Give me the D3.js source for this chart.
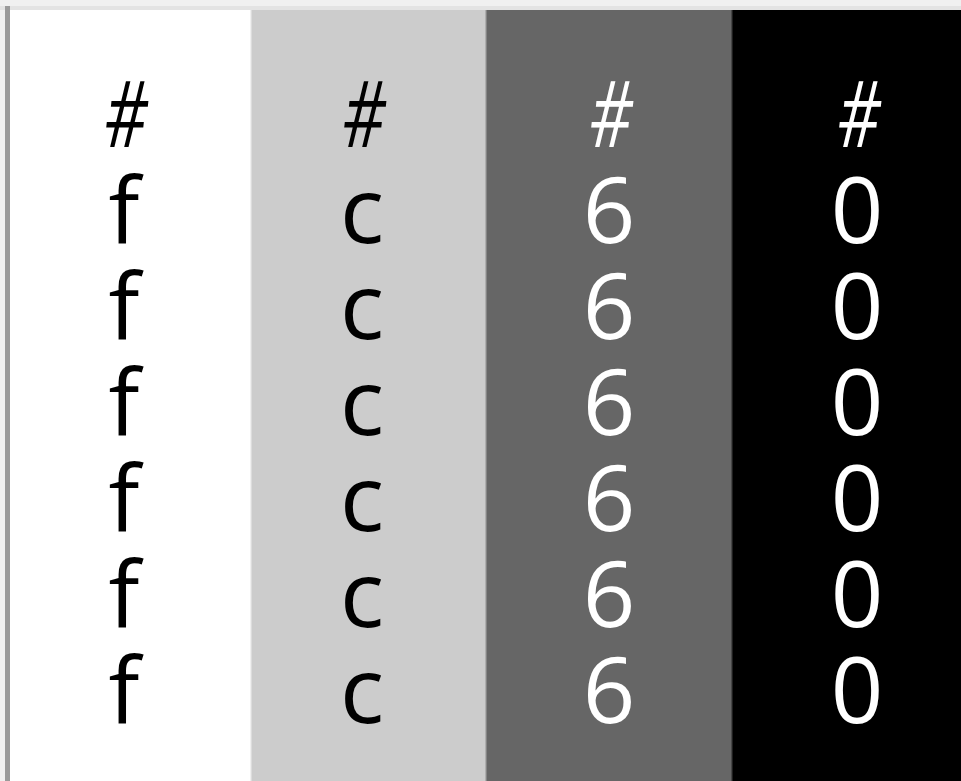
<!DOCTYPE html>
<html>
<head>
<meta charset="utf-8">
<script src="https://cdn.jsdelivr.net/npm/d3@7"></script>
<style>
  html, body { margin: 0; padding: 0; background: #f0f0f0; overflow: hidden; }
  svg { display: block; }
</style>
</head>
<body>
<script>
// ---- data ----
const swatchColors = ["#ffffff", "#cccccc", "#666666", "#000000"];
const swatchLabels = ["#ffffff", "#cccccc", "#666666", "#000000"];
const textColors   = ["#000000", "#000000", "#ffffff", "#ffffff"];

// ---- layout ----
const W = 961, H = 781;
const colEdges = [10, 251, 486, 732, 978];   // column boundaries (layout)
const textCenters = [124, 362, 609, 857];
const bandTop = 10;
const fontSize = 92;
const firstBaseline = 147, lineStep = 96;

const svg = d3.select("body").append("svg")
  .attr("width", W).attr("height", H);

// frame background
svg.append("rect").attr("x", 0).attr("y", 0).attr("width", W).attr("height", H).attr("fill", "#f0f0f0");
svg.append("rect").attr("x", 0).attr("y", 6).attr("width", W).attr("height", 4).attr("fill", "#e3e3e3");
svg.append("rect").attr("x", 5).attr("y", 6).attr("width", 5).attr("height", H).attr("fill", "#9a9a9a");

const idx = d3.range(swatchColors.length);
const x0 = d3.scaleOrdinal().domain(idx).range(colEdges.slice(0, -1));
const x1 = d3.scaleOrdinal().domain(idx).range(colEdges.slice(1));
const xt = d3.scaleOrdinal().domain(idx).range(textCenters);

const y = d3.scaleLinear().domain([0, 1]).range([firstBaseline, firstBaseline + lineStep]);

const cols = svg.selectAll("g.col").data(idx).join("g").attr("class", "col");

cols.append("rect")
  .attr("x", i => x0(i))
  .attr("y", bandTop)
  .attr("width", i => x1(i) - x0(i))
  .attr("height", H - bandTop)
  .attr("fill", i => swatchColors[i]);

// separators (soft edges between swatches)
svg.selectAll("rect.sep").data(idx.slice(1)).join("rect")
  .attr("class", "sep")
  .attr("x", i => x0(i) - 1)
  .attr("y", bandTop)
  .attr("width", 2)
  .attr("height", H - bandTop)
  .attr("fill", i => d3.interpolateRgb(swatchColors[i - 1], swatchColors[i])(0.5))
  .attr("opacity", 0.6);

cols.selectAll("text")
  .data(i => swatchLabels[i].split("").map((ch, k) => ({ ch, k, i })))
  .join("text")
  .attr("transform", d => `translate(${xt(d.i)},${y(d.k)})` + (d.ch === "#" ? " skewX(-6) scale(0.72,1)" : ""))
  .attr("text-anchor", "middle")
  .attr("font-family", "'Open Sans', 'Noto Sans', sans-serif")
  .attr("font-size", fontSize)
  .attr("fill", d => textColors[d.i])
  .text(d => d.ch);
</script>
</body>
</html>
